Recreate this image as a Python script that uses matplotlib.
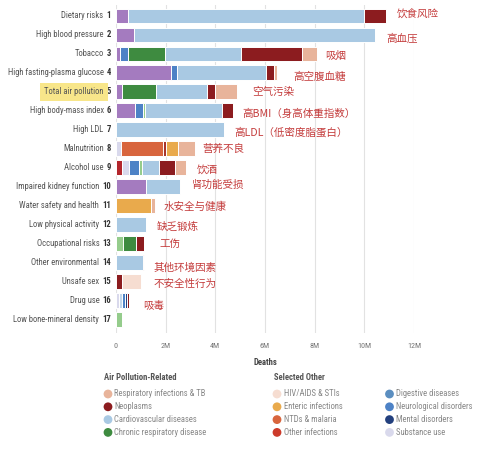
import matplotlib
matplotlib.use("Agg")
from matplotlib import pyplot as plt
from matplotlib import font_manager
import numpy as np

# the reference uses a condensed sans; take the narrowest one that is installed
names = {f.name for f in font_manager.fontManager.ttflist}
cond_dejavu = [f for f in font_manager.fontManager.ttflist
               if f.name == 'DejaVu Sans' and 'ondensed' in f.fname]
if 'Liberation Sans Narrow' in names:
    FAM, FS = 'Liberation Sans Narrow', 6.2
elif 'Roboto Condensed' in names:
    FAM, FS = 'Roboto Condensed', 5.9
elif cond_dejavu:
    FAM, FS = 'DejaVu Sans', 5.3
    plt.rcParams['font.stretch'] = 'condensed'
else:
    FAM, FS = 'Roboto', 5.0
plt.rcParams['font.family'] = [FAM, 'DejaVu Sans']

risks = ["Dietary risks", "High blood pressure", "Tobacco", "High fasting-plasma glucose",
         "Total air pollution", "High body-mass index", "High LDL", "Malnutrition",
         "Alcohol use", "Impaired kidney function", "Water safety and health",
         "Low physical activity", "Occupational risks", "Other environmental",
         "Unsafe sex", "Drug use", "Low bone-mineral density"]

notes = ["饮食风险", "高血压", "吸烟", "高空腹血糖", "空气污染", "高BMI（身高体重指数）",
         "高LDL（低密度脂蛋白）", "营养不良", "饮酒", "肾功能受损", "水安全与健康",
         "缺乏锻炼", "工伤", "其他环境因素", "不安全性行为", "吸毒", ""]
# where the hand-written notes sit (x in M, y shift in rows)
note_x = [11.29, 10.88, 8.42, 7.15, 5.49, 5.09, 4.78, 3.47, 3.24, 3.06, 1.90, 1.63, 1.74, 1.53, 1.53, 1.10, 0]
note_dy = [-0.05, 0.19, 0.12, 0.2, 0, 0.17, 0.14, 0, 0.13, -0.09, 0.08, 0.09, 0, 0.28, 0.12, 0.3, 0]

# deaths in millions, one value per risk factor
injuries    = [0, 0, 0, 0, 0, 0, 0, 0, 0.23, 0, 0, 0, 0, 0, 0, 0, 0]
diab_kidney = [0.48, 0.72, 0.16, 2.21, 0.24, 0.76, 0, 0, 0, 1.19, 0, 0, 0, 0, 0, 0, 0]
substance   = [0, 0, 0, 0, 0, 0, 0, 0.20, 0.28, 0, 0, 0, 0, 0, 0, 0.13, 0]
liver       = [0, 0, 0, 0, 0, 0, 0, 0, 0, 0, 0, 0, 0, 0, 0, 0.11, 0]
ntds        = [0, 0, 0, 0, 0, 0, 0, 1.71, 0, 0, 0, 0, 0, 0, 0, 0, 0]
other_inf   = [0, 0, 0, 0, 0, 0, 0, 0.09, 0, 0, 0, 0, 0, 0, 0, 0, 0]
enteric     = [0, 0, 0, 0, 0, 0, 0, 0.49, 0, 0, 1.39, 0, 0, 0, 0, 0, 0]
neuro       = [0, 0, 0.32, 0.23, 0, 0.31, 0, 0, 0.40, 0, 0, 0, 0, 0, 0, 0.13, 0]
mental      = [0, 0, 0, 0, 0, 0, 0, 0, 0, 0, 0, 0, 0, 0, 0, 0.07, 0]
other_ncd   = [0, 0, 0, 0, 0, 0.11, 0, 0, 0.13, 0, 0, 0, 0.30, 0, 0, 0, 0.25]
chronic     = [0, 0, 1.51, 0, 1.37, 0, 0, 0, 0, 0, 0, 0, 0.51, 0, 0, 0, 0]
cardio      = [9.49, 9.72, 3.06, 3.60, 2.05, 3.08, 4.34, 0, 0.71, 1.38, 0, 1.22, 0, 1.08, 0, 0, 0]
neoplasms   = [0.90, 0, 2.43, 0.32, 0.33, 0.45, 0, 0, 0.64, 0, 0, 0, 0.33, 0.06, 0.23, 0.07, 0]
resp_inf    = [0, 0, 0.60, 0.12, 0.88, 0, 0, 0.69, 0.43, 0, 0.20, 0, 0, 0, 0, 0, 0]
hiv         = [0, 0, 0, 0, 0, 0, 0, 0, 0, 0, 0, 0, 0, 0, 0.78, 0, 0]

stack = [(injuries, '#b3262c'), (diab_kidney, '#a47bbf'), (substance, '#d9d9ec'),
         (liver, '#c3d8ec'), (ntds, '#d8653d'), (other_inf, '#a8352a'),
         (enteric, '#e9aa4c'), (neuro, '#4d82c6'), (mental, '#23407e'),
         (other_ncd, '#95cc8c'), (chronic, '#3e8b40'), (cardio, '#a9c9e3'),
         (neoplasms, '#8c1c1f'), (resp_inf, '#e8b49b'), (hiv, '#f6ddd1')]

legend_air = [("Respiratory infections & TB", '#e8b49b'), ("Neoplasms", '#8c1c1f'),
              ("Cardiovascular diseases", '#a9c9e3'), ("Chronic respiratory disease", '#3e8b40')]
legend_other1 = [("HIV/AIDS & STIs", '#f6ddd1'), ("Enteric infections", '#e9aa4c'),
                 ("NTDs & malaria", '#d8653d'), ("Other infections", '#cc3b2b')]
legend_other2 = [("Digestive diseases", '#5b8ec0'), ("Neurological disorders", '#4d82c6'),
                 ("Mental disorders", '#23407e'), ("Substance use", '#d9d9ec')]

W, H = 487, 450
fig = plt.figure(figsize=(W/100, H/100), dpi=100)
ax = fig.add_axes([116/W, 1-333/H, 298/W, 328/H])

y = np.arange(1, len(risks)+1)
left = np.zeros(len(risks))
for vals, col in stack:
    vals = np.array(vals)
    ax.barh(y, vals, left=left, height=0.78, color=col, edgecolor='white', linewidth=0.7, zorder=2)
    left = left + vals

ax.set_xlim(0, 12)
ax.set_ylim(17.72, 0.42)
ax.set_xticks([0, 2, 4, 6, 8, 10, 12])
ax.set_xticklabels(["0", "2M", "4M", "6M", "8M", "10M", "12M"], fontsize=FS, color='#777777')
ax.tick_params(axis='x', length=0, pad=7)
ax.set_yticks([])
ax.grid(axis='x', color='#e2e2e2', linewidth=0.8, zorder=0)
for s in ax.spines.values():
    s.set_visible(False)
ax.set_xlabel("Deaths", fontsize=FS+0.3, fontweight='bold', color='#444444', labelpad=7)

tr = ax.get_yaxis_transform()
for i, name in enumerate(risks):
    num = ax.text(-0.017, y[i], str(i+1), transform=tr, ha='right', va='center',
                  fontsize=FS+0.3, fontweight='bold', color='#333333')
    kw = {}
    if name == "Total air pollution":
        kw['bbox'] = dict(boxstyle='square,pad=0.5', facecolor='#f8e68a', edgecolor='none')
    ax.annotate(name, xy=(0, 0.5), xycoords=num, xytext=(-2.2, 0), textcoords='offset points',
                ha='right', va='center', fontsize=FS+0.3, color='#555555', **kw)
    if notes[i]:
        ax.text(note_x[i], y[i] + note_dy[i], notes[i], ha='left', va='center', fontsize=7.6,
                color='#c43c3c', family=['Noto Sans CJK SC', 'DejaVu Sans'])

# legend drawn in pixel space
lg = fig.add_axes([0, 0, 1, 1])
lg.set_xlim(0, W)
lg.set_ylim(H, 0)
lg.axis('off')
lg.patch.set_alpha(0)
lg.text(104, 378, "Air Pollution-Related", fontsize=FS+0.3, fontweight='bold', color='#555555', va='center')
lg.text(274, 378, "Selected Other", fontsize=FS+0.3, fontweight='bold', color='#555555', va='center')
for col_x, items in [(108, legend_air), (277, legend_other1), (389.5, legend_other2)]:
    for j, (lab, c) in enumerate(items):
        yy = 394 + j*12.8
        lg.scatter([col_x], [yy], s=40, color=c, edgecolors='none')
        lg.text(col_x + 6.5, yy, lab, fontsize=FS+0.3, color='#888888', va='center')

fig.savefig("out.png", dpi=100)
